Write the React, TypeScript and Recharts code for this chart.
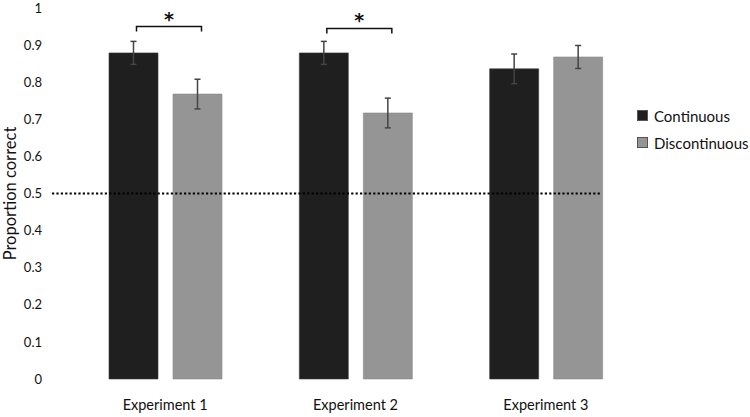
import { BarChart, Bar, XAxis, YAxis, ErrorBar, ReferenceLine, Legend, LabelList, Label } from 'recharts';

const experiments = ['Experiment 1', 'Experiment 2', 'Experiment 3'];
const continuous = [0.879, 0.879, 0.836];
const continuousErr = [0.031, 0.031, 0.04];
const discontinuous = [0.768, 0.717, 0.868];
const discontinuousErr = [0.04, 0.04, 0.031];
// significance bracket height per experiment (null = no bracket)
const sigLevel = [0.95, 0.945, null];
const yTicks = [0, 0.1, 0.2, 0.3, 0.4, 0.5, 0.6, 0.7, 0.8, 0.9, 1];
const chance = 0.5;

const COLORS = {
  continuous: '#1f1f1f',
  discontinuous: '#959595',
};

const FONT = 'Lato, "Open Sans", sans-serif';
const BAR_SIZE = 49;
const BAR_GAP = 15;

const data = experiments.map((name, i) => ({
  name,
  continuous: continuous[i],
  continuousErr: continuousErr[i],
  discontinuous: discontinuous[i],
  discontinuousErr: discontinuousErr[i],
  sig: sigLevel[i],
}));

// bracket + star drawn above the pair, using the bar's own pixel scale
function SigBracket(props: any) {
  const { x, y, width, height, index, value } = props;
  if (value == null) return null;
  const v = continuous[index];
  const pxPerUnit = height / v;
  const base = y + height;
  const by = base - value * pxPerUnit;
  const x1 = x + width / 2 + 3;
  const x2 = x + width * 1.5 + BAR_GAP + 4;
  return (
    <g>
      <path d={`M${x1},${by + 5} L${x1},${by} L${x2},${by} L${x2},${by + 5}`} fill="none" stroke="#111" strokeWidth={1.5} />
      <text x={(x1 + x2) / 2} y={by - 1} textAnchor="middle" fontSize={19} fontWeight="bold" fontFamily='"DejaVu Sans", sans-serif' fill="#111">*</text>
    </g>
  );
}

function ChanceLine(props: any) {
  const { x1, x2, y1 } = props;
  return (
    <line x1={x1 - 18} x2={x2 - 39} y1={y1} y2={y1} stroke="#000" strokeWidth={2.2} strokeDasharray="2.2 2.2" />
  );
}

function LegendBox() {
  const items = [
    { label: 'Continuous', color: COLORS.continuous },
    { label: 'Discontinuous', color: COLORS.discontinuous },
  ];
  return (
    <div style={{ fontFamily: FONT, fontSize: 15, color: '#111' }}>
      {items.map(it => (
        <div key={it.label} style={{ display: 'flex', alignItems: 'center', height: 27 }}>
          <span style={{ width: 9, height: 9, background: it.color, border: '0.5px solid #555', marginRight: 6 }} />
          {it.label}
        </div>
      ))}
    </div>
  );
}

export default function App() {
  return (
    <div style={{ position: 'absolute', left: 0, top: 0, background: '#fff' }}>
      <BarChart
        width={750}
        height={417}
        data={data}
        margin={{ top: 8, right: 109, left: 0, bottom: 0 }}
        barSize={BAR_SIZE}
        barGap={BAR_GAP}
      >
        <XAxis
          dataKey="name"
          axisLine={false}
          tickLine={false}
          height={38}
          tickMargin={15}
          tick={{ fontSize: 14.5, fill: '#111', fontFamily: FONT }}
        />
        <YAxis
          domain={[0, 1]}
          ticks={yTicks}
          width={70}
          axisLine={false}
          tickLine={false}
          tickMargin={22}
          interval={0}
          tickFormatter={(v: number) => String(Math.round(v * 10) / 10)}
          tick={{ fontSize: 13, fill: '#111', fontFamily: FONT }}
        >
          <Label
            content={(p: any) => {
              const vb = p.viewBox;
              const cx = 10;
              const cy = vb.y + vb.height / 2;
              return (
                <text x={cx} y={cy} transform={`rotate(-90 ${cx} ${cy})`} textAnchor="middle" dominantBaseline="central" fontSize={16.5} fontFamily={FONT} fill="#111">
                  Proportion correct
                </text>
              );
            }}
          />
        </YAxis>
        <Legend
          layout="horizontal"
          verticalAlign="middle"
          align="center"
          content={() => <LegendBox />}
          wrapperStyle={{ position: 'absolute', left: 637, top: 102, width: 113 }}
        />
        <Bar dataKey="continuous" fill={COLORS.continuous} stroke="#3a3a3a" strokeWidth={0.6} isAnimationActive={false}>
          <ErrorBar dataKey="continuousErr" width={3} stroke="#444" strokeWidth={1.5} />
          <LabelList dataKey="sig" content={SigBracket} />
        </Bar>
        <Bar dataKey="discontinuous" fill={COLORS.discontinuous} stroke="#8a8a8a" strokeWidth={0.6} isAnimationActive={false}>
          <ErrorBar dataKey="discontinuousErr" width={3} stroke="#444" strokeWidth={1.5} />
        </Bar>
        <ReferenceLine y={chance} shape={ChanceLine} ifOverflow="visible" />
      </BarChart>
    </div>
  );
}
